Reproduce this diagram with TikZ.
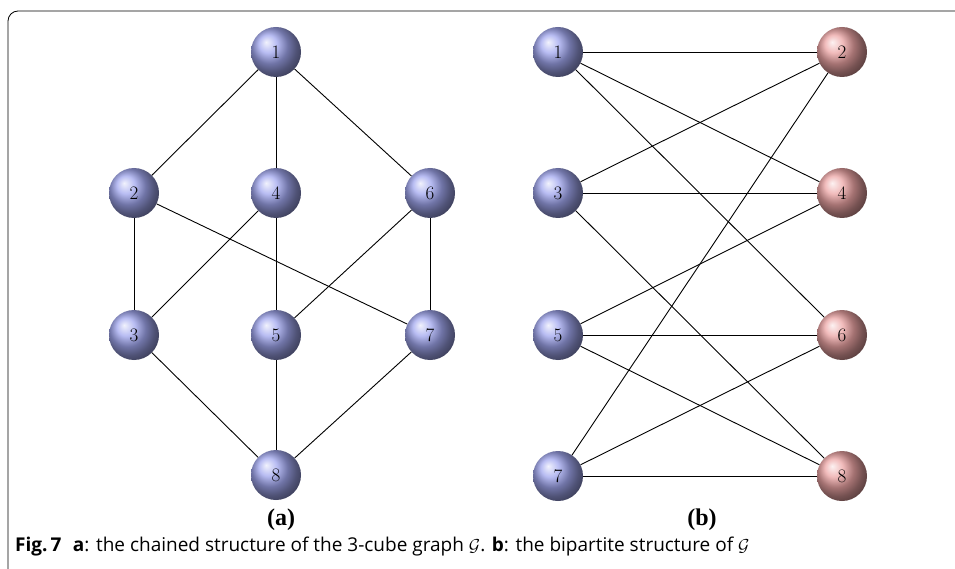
\documentclass[tikz,border=0pt]{standalone}
\usepackage{fontspec}
\newfontfamily\capfont{Open Sans}
\newfontfamily\labfont{Liberation Serif}
\usetikzlibrary{shadings}
\definecolor{bluball}{RGB}{160,166,238}
\definecolor{pinkball}{RGB}{236,164,164}
\tikzset{
  x=1pt,y=-1pt,
  vtx/.style={circle,minimum size=50pt,inner sep=0pt,font=\fontsize{19}{19}\selectfont},
  bv/.style={vtx,ball color=bluball},
  pv/.style={vtx,ball color=pinkball},
  edge/.style={line width=0.9pt,black},
  sublab/.style={font=\labfont\bfseries\fontsize{24}{24}\selectfont},
}
\begin{document}
\begin{tikzpicture}
\useasboundingbox (0,0) rectangle (955,569);
\fill[white] (0,0) rectangle (955,569);
\draw[line width=0.8pt,black,rounded corners=10pt] (955,11) -- (8,11) -- (8,569);
% (a)
\node[bv] (a1) at (276,52) {1};
\node[bv] (a2) at (134,193) {2};
\node[bv] (a4) at (276,193) {4};
\node[bv] (a6) at (430,193) {6};
\node[bv] (a3) at (134,335) {3};
\node[bv] (a5) at (276,335) {5};
\node[bv] (a7) at (430,335) {7};
\node[bv] (a8) at (276,475) {8};
\foreach \u/\v in {a1/a2,a1/a4,a1/a6,a2/a3,a2/a7,a4/a3,a4/a5,a6/a5,a6/a7,a3/a8,a5/a8,a7/a8}
  \draw[edge] (\u) -- (\v);
% (b)
\node[bv] (b1) at (558,52) {1};
\node[bv] (b3) at (558,193) {3};
\node[bv] (b5) at (558,335) {5};
\node[bv] (b7) at (558,476) {7};
\node[pv] (b2) at (842,52) {2};
\node[pv] (b4) at (842,193) {4};
\node[pv] (b6) at (842,335) {6};
\node[pv] (b8) at (842,476) {8};
\foreach \u/\v in {b1/b2,b1/b4,b1/b6,b3/b2,b3/b4,b3/b8,b5/b4,b5/b6,b5/b8,b7/b2,b7/b6,b7/b8}
  \draw[edge] (\u) -- (\v);
\node[sublab] (la) at (281,520) {(a)};
\node[sublab] (lb) at (702,520) {(b)};
\node[anchor=west,font=\capfont\fontsize{19}{19}\selectfont,inner sep=0pt] (cap) at (15,547)
  {\textbf{Fig.\,7}\hspace{0.6em}\textbf{a}: the chained structure of the 3-cube graph $\mathcal{G}$. \textbf{b}: the bipartite structure of $\mathcal{G}$};
\end{tikzpicture}
\end{document}
